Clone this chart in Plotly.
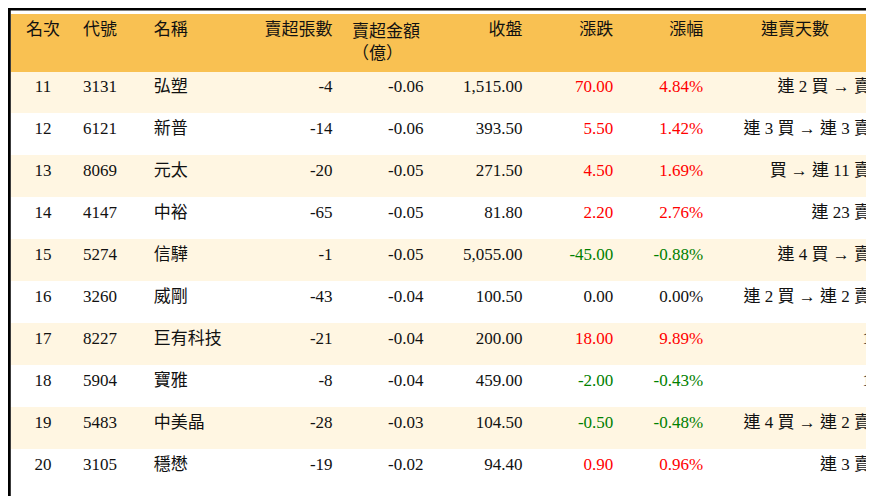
import plotly.graph_objects as go

rank = [11, 12, 13, 14, 15, 16, 17, 18, 19, 20]
code = ["3131", "6121", "8069", "4147", "5274", "3260", "8227", "5904", "5483", "3105"]
name = ["弘塑", "新普", "元太", "中裕", "信驊", "威剛", "巨有科技", "寶雅", "中美晶", "穩懋"]
net_lots = [-4, -14, -20, -65, -1, -43, -21, -8, -28, -19]
net_amt = [-0.06, -0.06, -0.05, -0.05, -0.05, -0.04, -0.04, -0.04, -0.03, -0.02]
close = [1515.00, 393.50, 271.50, 81.80, 5055.00, 100.50, 200.00, 459.00, 104.50, 94.40]
change = [70.00, 5.50, 4.50, 2.20, -45.00, 0.00, 18.00, -2.00, -0.50, 0.90]
pct = [4.84, 1.42, 1.69, 2.76, -0.88, 0.00, 9.89, -0.43, -0.48, 0.96]
streak = ["連 2 買 → 賣", "連 3 買 → 連 3 賣", "買 → 連 11 賣", "連 23 賣", "連 4 買 → 賣",
          "連 2 買 → 連 2 賣", "1", "1", "連 4 買 → 連 2 賣", "連 3 賣"]
headers = ["名次", "代號", "名稱", "賣超張數", "賣超金額<br>（億）", "收盤", "漲跌", "漲幅", "連賣天數"]

def col(v):
    return "#FF0000" if v > 0 else ("#008000" if v < 0 else "#111111")

n = len(rank)
fills = ["#FFF6E2" if i % 2 == 0 else "#FFFFFF" for i in range(n)]
black = ["#111111"] * n
chg_colors = [col(v) for v in change]
pct_colors = [col(v) for v in pct]

cells = [
    [str(r) for r in rank], code, name,
    [str(v) for v in net_lots],
    [f"{v:.2f}" for v in net_amt],
    [f"{v:,.2f}" for v in close],
    [f"{v:.2f}" for v in change],
    [f"{v:.2f}%" for v in pct],
    streak,
]
font_family = "Liberation Serif, Noto Sans CJK TC, serif"

fig = go.Figure(go.Table(
    columnwidth=[64, 71, 100, 95, 91, 99, 91, 90, 168],
    header=dict(
        values=headers,
        fill_color="#F9C152",
        line=dict(width=1, color="#F9C152"),
        align=["center", "left", "left", "right", "center", "right", "right", "right", "center"],
        font=dict(family=font_family, size=17, color="#111111"),
        height=40,
    ),
    cells=dict(
        values=cells,
        fill_color=[fills] * 9,
        line=dict(width=1, color=[fills] * 9),
        align=["center", "left", "left", "right", "right", "right", "right", "right", "right"],
        font=dict(family=font_family, size=17,
                  color=[black, black, black, black, black, black, chg_colors, pct_colors, black]),
        height=42,
    ),
    domain=dict(x=[0, 1], y=[0, 1]),
))
fig.update_layout(
    width=874, height=496,
    margin=dict(l=3, r=3, t=6, b=0),
    paper_bgcolor="#FFFFFF",
    shapes=[
        dict(type="rect", xref="paper", yref="paper", x0=-0.002, x1=1.002, y0=-0.004, y1=1.01,
             line=dict(color="#000000", width=3)),
    ],
)
fig.write_html("out.html")
